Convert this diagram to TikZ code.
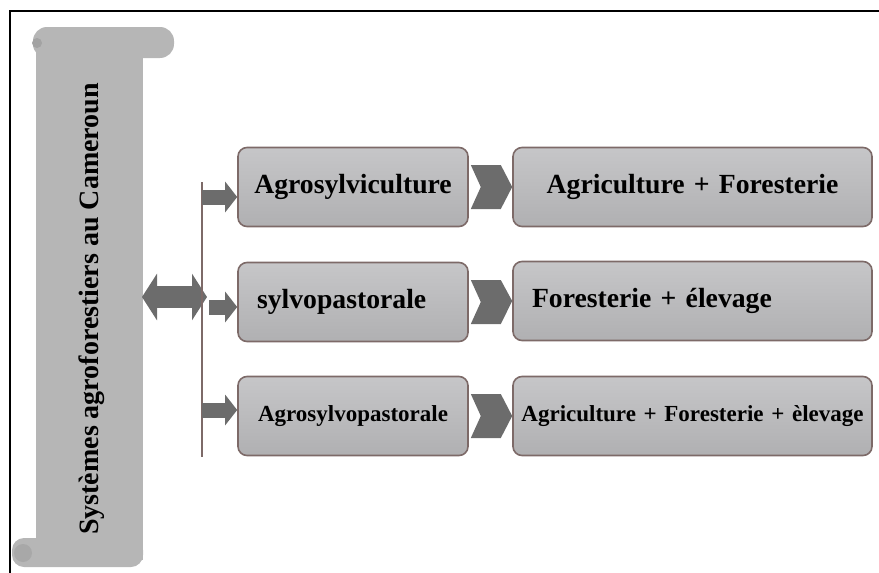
\documentclass[tikz,border=0pt]{standalone}
\usepackage{fontspec}
\setmainfont{Liberation Serif}
\usetikzlibrary{arrows.meta}
\definecolor{boitehaut}{RGB}{198,198,200}
\definecolor{boitebas}{RGB}{176,176,178}
\definecolor{bordbrun}{RGB}{125,106,104}
\definecolor{flechegris}{RGB}{108,108,108}
\definecolor{rouleau}{RGB}{182,182,182}
\begin{document}
\begin{tikzpicture}[x=1pt,y=-1pt,
    boite/.style={draw=bordbrun,line width=1.6pt,rounded corners=9pt,top color=boitehaut,bottom color=boitebas,
      minimum height=79pt,inner xsep=6pt,align=center,font=\bfseries\fontsize{27.7}{30}\selectfont},
    gauche/.style={boite,text width=218pt},
    droite/.style={boite,text width=347pt},
    petit/.style={font=\bfseries\fontsize{23}{26}\selectfont},
    fleche/.style={flechegris,line width=15pt,-{Triangle[length=12pt,width=30pt]}},
    chevron/.style={fill=flechegris}]
  \useasboundingbox (0,0) rectangle (879,573);
  \draw[line width=2pt] (10,573)--(10,11)--(879,11);
  % le rouleau
  \fill[rouleau] (36,48) rectangle (143,560);
  \fill[rouleau,rounded corners=14pt] (33,27) rectangle (174,58);
  \fill[rouleau,rounded corners=12pt] (12,538) rectangle (143,567);
  \fill[gray!72] (37,43) circle (5pt);
  \fill[gray!68] (23,553) circle (9pt);
  \node[rotate=90,font=\bfseries\fontsize{28}{30}\selectfont] (titre) at (92,309) {Systèmes agroforestiers au Cameroun};
  % les boites
  \node[gauche] (g1) at (353,187) {Agrosylviculture};
  \node[gauche,align=left,inner xsep=19pt,text width=192pt] (g2) at (353,302) {sylvopastorale};
  \node[gauche,petit] (g3) at (353,416) {Agrosylvopastorale};
  \node[droite] (d1) at (692.5,187) {Agriculture + Foresterie};
  \node[droite,align=left,inner xsep=19pt,text width=321pt] (d2) at (692.5,301) {Foresterie + élevage};
  \node[droite,petit] (d3) at (692.5,416) {Agriculture + Foresterie + èlevage};
  % les fleches
  \coordinate (s) at (142,297);
  \coordinate (l) at (207,297);
  \draw[flechegris,line width=22pt,{Triangle[length=15pt,width=46pt]}-{Triangle[length=15pt,width=46pt]}] (s)--(l);
  \coordinate (haut) at (202,182);
  \coordinate (bas) at (202,457);
  \draw[bordbrun,line width=2.2pt] (haut)--(bas);
  \coordinate (t1) at (202,197);
  \coordinate (t2) at (209,307);
  \coordinate (t3) at (202,410);
  \draw[fleche] (t1)--(t1 -| g1.west);
  \draw[fleche] (t2)--(t2 -| g2.west);
  \draw[fleche] (t3)--(t3 -| g3.west);
  \fill[chevron] ([xshift=2pt,yshift=22pt]g1.east)--++(30,0)--(d1.west)--([xshift=32pt,yshift=-22pt]g1.east)--++(-30,0)--([xshift=12pt]g1.east)--cycle;
  \fill[chevron] ([xshift=2pt,yshift=22pt]g2.east)--++(30,0)--(d2.west)--([xshift=32pt,yshift=-22pt]g2.east)--++(-30,0)--([xshift=12pt]g2.east)--cycle;
  \fill[chevron] ([xshift=2pt,yshift=22pt]g3.east)--++(30,0)--(d3.west)--([xshift=32pt,yshift=-22pt]g3.east)--++(-30,0)--([xshift=12pt]g3.east)--cycle;
\end{tikzpicture}
\end{document}
